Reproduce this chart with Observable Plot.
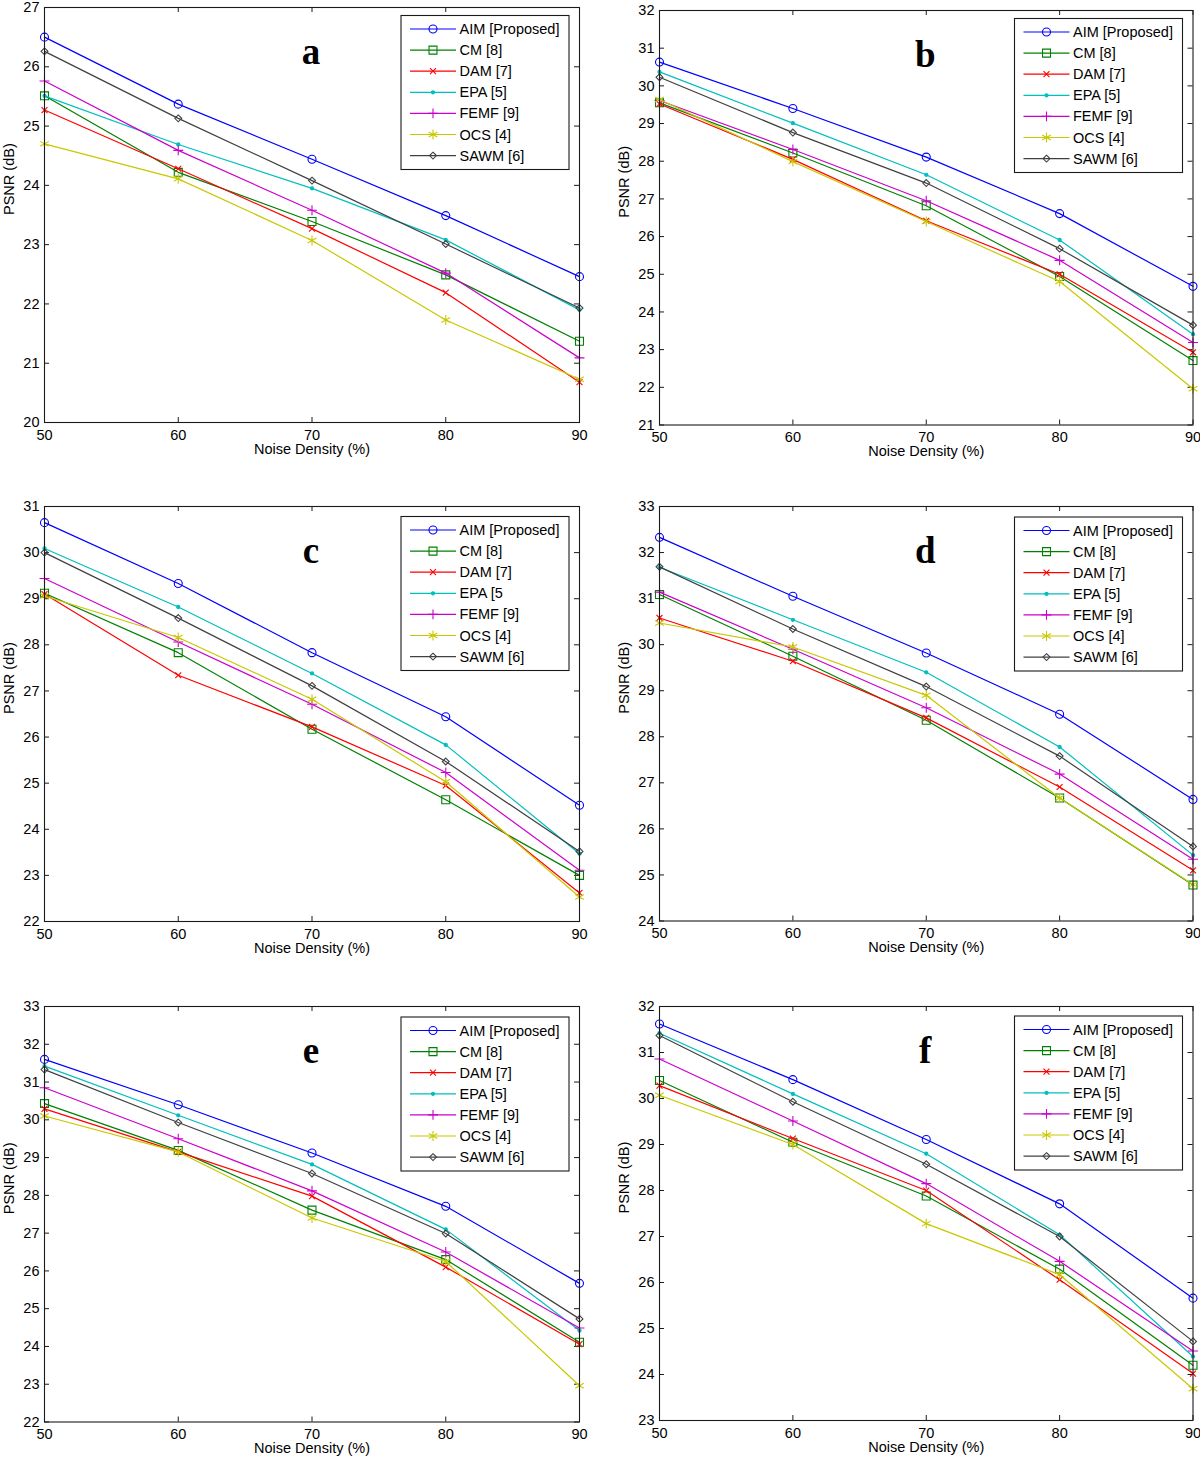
<!DOCTYPE html>
<html><head><meta charset="utf-8">
<script src="https://cdn.jsdelivr.net/npm/d3@7"></script>
<script src="https://cdn.jsdelivr.net/npm/@observablehq/plot@0.6"></script>
<style>
html,body{margin:0;padding:0;background:#fff;overflow:hidden;}
#root{position:relative;width:1200px;height:1463px;background:#fff;}
#root svg{position:absolute;overflow:visible;}
</style></head><body><div id="root"></div>
<script>
// ---------- data ----------
const noise = [50, 60, 70, 80, 90];
const methods = ["AIM [Proposed]", "CM [8]", "DAM [7]", "EPA [5]", "FEMF [9]", "OCS [4]", "SAWM [6]"];
const legendLabelsC = ["AIM [Proposed]", "CM [8]", "DAM [7]", "EPA [5", "FEMF [9]", "OCS [4]", "SAWM [6]"];
const panelLetters = ["a", "b", "c", "d", "e", "f"];
const xLabel = "Noise Density (%)";
const yLabel = "PSNR (dB)";

const yTicksA = [20, 21, 22, 23, 24, 25, 26, 27];
const yTicksB = [21, 22, 23, 24, 25, 26, 27, 28, 29, 30, 31, 32];
const yTicksC = [22, 23, 24, 25, 26, 27, 28, 29, 30, 31];
const yTicksD = [24, 25, 26, 27, 28, 29, 30, 31, 32, 33];
const yTicksE = [22, 23, 24, 25, 26, 27, 28, 29, 30, 31, 32, 33];
const yTicksF = [23, 24, 25, 26, 27, 28, 29, 30, 31, 32];

// rows in method order: AIM, CM, DAM, EPA, FEMF, OCS, SAWM
const psnrA = [
  [26.50, 25.37, 24.44, 23.49, 22.46],
  [25.51, 24.22, 23.39, 22.49, 21.37],
  [25.27, 24.28, 23.27, 22.19, 20.68],
  [25.51, 24.69, 23.95, 23.08, 21.90],
  [25.76, 24.59, 23.58, 22.52, 21.09],
  [24.70, 24.11, 23.07, 21.73, 20.73],
  [26.26, 25.13, 24.08, 23.01, 21.93]
];
const psnrB = [
  [30.63, 29.40, 28.11, 26.61, 24.68],
  [29.55, 28.22, 26.82, 24.94, 22.71],
  [29.52, 28.05, 26.42, 25.00, 22.93],
  [30.37, 29.01, 27.64, 25.91, 23.41],
  [29.61, 28.31, 26.95, 25.37, 23.19],
  [29.64, 27.99, 26.40, 24.81, 21.96],
  [30.23, 28.76, 27.42, 25.68, 23.65]
];
const psnrC = [
  [30.65, 29.33, 27.83, 26.44, 24.52],
  [29.12, 27.83, 26.17, 24.64, 23.00],
  [29.10, 27.34, 26.22, 24.95, 22.62],
  [30.09, 28.82, 27.38, 25.83, 23.47],
  [29.44, 28.06, 26.71, 25.23, 23.11],
  [29.06, 28.16, 26.82, 25.03, 22.53],
  [30.00, 28.58, 27.11, 25.47, 23.52]
];
const psnrD = [
  [32.33, 31.05, 29.82, 28.49, 26.64],
  [31.09, 29.75, 28.36, 26.67, 24.78],
  [30.58, 29.64, 28.41, 26.91, 25.10],
  [31.68, 30.54, 29.40, 27.78, 25.43],
  [31.14, 29.90, 28.63, 27.19, 25.34],
  [30.47, 29.95, 28.90, 26.67, 24.79],
  [31.69, 30.34, 29.09, 27.58, 25.62]
];
const psnrE = [
  [31.60, 30.40, 29.12, 27.71, 25.67],
  [30.43, 29.19, 27.61, 26.30, 24.11],
  [30.29, 29.15, 27.98, 26.10, 24.06],
  [31.42, 30.12, 28.82, 27.10, 24.42],
  [30.85, 29.50, 28.12, 26.50, 24.49],
  [30.10, 29.15, 27.40, 26.25, 22.96],
  [31.33, 29.93, 28.58, 26.99, 24.73]
];
const psnrF = [
  [31.62, 30.41, 29.11, 27.71, 25.66],
  [30.39, 29.05, 27.88, 26.29, 24.20],
  [30.28, 29.13, 28.00, 26.06, 24.02],
  [31.42, 30.10, 28.80, 27.04, 24.39],
  [30.86, 29.51, 28.15, 26.46, 24.51],
  [30.07, 29.00, 27.28, 26.17, 23.69],
  [31.37, 29.93, 28.57, 27.00, 24.72]
];

// ---------- styles ----------
const colors = ["#0000ff", "#008000", "#ff0000", "#00bfbf", "#cc00cc", "#c8c800", "#404040"];
const symbols = ["circle", "square", "times", "circle", "plus", "asterisk", "diamond2"];
const symbolR = [4, 4.5, 2.8, 1.6, 3.3, 4.7, 3.1];
const symbolFilled = [false, false, false, true, false, false, false];
const d3Symbols = {circle: d3.symbolCircle, square: d3.symbolSquare, times: d3.symbolTimes, plus: d3.symbolPlus, asterisk: d3.symbolAsterisk, diamond2: d3.symbolDiamond2};

// ---------- layout ----------
const layout = [
  {x0: 44, x1: 579, y0: 7, y1: 422, legTop: 8.5},
  {x0: 659, x1: 1192.5, y0: 9.5, y1: 424, legTop: 8.5},
  {x0: 44, x1: 579, y0: 506, y1: 921, legTop: 10.5},
  {x0: 659, x1: 1192.5, y0: 505.5, y1: 920, legTop: 11},
  {x0: 44, x1: 579, y0: 1006, y1: 1421.5, legTop: 11},
  {x0: 659, x1: 1192.5, y0: 1006, y1: 1420, legTop: 10}
];
const panelData = [psnrA, psnrB, psnrC, psnrD, psnrE, psnrF];
const panelTicks = [yTicksA, yTicksB, yTicksC, yTicksD, yTicksE, yTicksF];
const panelLegend = [methods, methods, legendLabelsC, methods, methods, methods];

const FONT = "'Liberation Sans', Arial, Helvetica, sans-serif";
const FS = 14.5;
const INK = "#1a1a1a";
const root = document.getElementById("root");

panelData.forEach((psnr, p) => {
  const L = layout[p];
  const ML = 50, MT = 10, MR = 10, MB = 45;
  const fw = L.x1 - L.x0, fh = L.y1 - L.y0;
  const W = fw + ML + MR, H = fh + MT + MB;
  const yt = panelTicks[p];
  const marks = [
    Plot.tickX(noise, {x: d => d, insetTop: fh - 5, stroke: INK}),
    Plot.tickX(noise, {x: d => d, insetBottom: fh - 5, stroke: INK}),
    Plot.tickY(yt, {y: d => d, insetRight: fw - 5, stroke: INK}),
    Plot.tickY(yt, {y: d => d, insetLeft: fw - 5, stroke: INK}),
    Plot.axisX({ticks: noise, tickSize: 0, tickPadding: 7, label: null, fontSize: FS, tickFormat: d => d}),
    Plot.axisY({ticks: yt, tickSize: 0, tickPadding: 5, label: null, fontSize: FS, tickFormat: d => d}),
    Plot.text([xLabel], {frameAnchor: "bottom", dy: 31, text: d => d, fontSize: FS}),
    Plot.text([yLabel], {frameAnchor: "left", dx: -35, rotate: -90, text: d => d, fontSize: FS}),
    Plot.text([panelLetters[p]], {frameAnchor: "top", dx: -1, dy: 30, text: d => d, fontSize: 37, fontWeight: "bold", fontFamily: "'Liberation Serif', 'Times New Roman', serif"})
  ];
  methods.forEach((m, i) => {
    const rows = noise.map((x, j) => ({x, y: psnr[i][j]}));
    marks.push(Plot.line(rows, {x: "x", y: "y", stroke: colors[i], strokeWidth: 1.2}));
    marks.push(Plot.dot(rows, {x: "x", y: "y", symbol: symbols[i], r: symbolR[i], stroke: colors[i], strokeWidth: 1.1, fill: symbolFilled[i] ? colors[i] : "none"}));
  });
  marks.push(Plot.frame({stroke: INK, strokeWidth: 1.1}));

  const svg = Plot.plot({
    width: W, height: H,
    marginLeft: ML, marginRight: MR, marginTop: MT, marginBottom: MB,
    x: {domain: [50, 90]},
    y: {domain: [yt[0], yt[yt.length - 1]]},
    style: {fontFamily: FONT, fontSize: FS + "px", background: "transparent", color: "#000"},
    marks
  });
  svg.style.left = (L.x0 - ML) + "px";
  svg.style.top = (L.y0 - MT) + "px";

  // legend (MATLAB style box)
  const lw = 168, lh = 154;
  const lx = ML + fw - 10 - lw, ly = MT + L.legTop;
  const g = d3.select(svg).append("g").attr("font-family", FONT).attr("font-size", FS).attr("text-anchor", "start");
  g.append("rect").attr("x", lx).attr("y", ly).attr("width", lw).attr("height", lh)
    .attr("fill", "white").attr("stroke", INK).attr("stroke-width", 1.1);
  panelLegend[p].forEach((lab, i) => {
    const yy = ly + 13.5 + i * 21.1;
    g.append("line").attr("x1", lx + 9).attr("x2", lx + 55).attr("y1", yy).attr("y2", yy)
      .attr("stroke", colors[i]).attr("stroke-width", 1.2);
    g.append("path").attr("transform", `translate(${lx + 32},${yy})`)
      .attr("d", d3.symbol(d3Symbols[symbols[i]], Math.PI * symbolR[i] * symbolR[i])())
      .attr("stroke", colors[i]).attr("stroke-width", 1.1)
      .attr("fill", symbolFilled[i] ? colors[i] : "none");
    g.append("text").attr("x", lx + 58.5).attr("y", yy).attr("dy", "0.35em")
      .attr("text-anchor", "start").attr("fill", "#000").text(lab);
  });
  root.appendChild(svg);
});
</script></body></html>
